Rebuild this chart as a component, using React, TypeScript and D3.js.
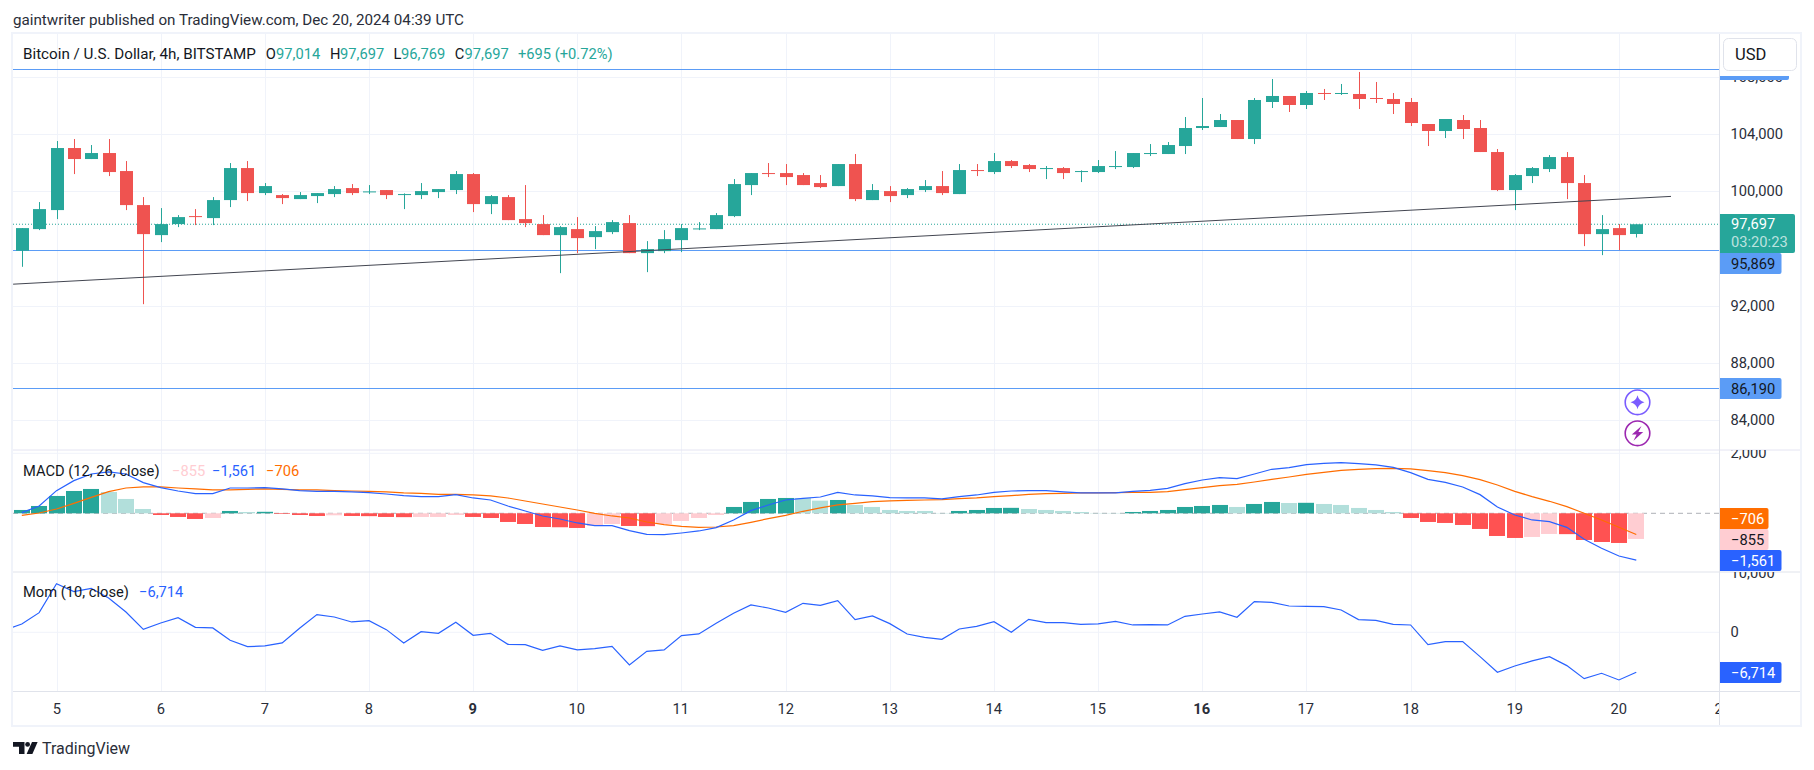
import React from "react";
import * as d3 from "d3";

const opens = [95837,97357,98690,103041,102269,102690,101427,99041,96936,97708,98269,98129,99392,101637,99883,99743,99462,99673,99813,100234,99977,100094,99766,99743,99953,100094,101216,99111,99602,98059,97708,96936,97357,96796,97146,97778,95673,95813,96585,97357,97357,98269,100444,101286,101286,101146,100585,100374,101918,99392,100023,99743,100094,100374,99813,101497,101357,102128,101848,101567,101637,101357,101357,101707,101707,102620,102620,103181,104444,104514,105005,103672,106269,106690,106058,106900,106830,106830,106549,106479,106269,104725,104234,105005,104444,102760,100094,101076,101567,102409,100585,97006,97427,97014];
const closes = [97427,98760,103041,102269,102690,101357,99041,97006,97708,98199,98199,99392,101637,99883,100374,99532,99743,99883,100164,99883,100000,99743,99813,100023,100164,101216,99111,99673,97988,97778,96936,97497,96725,97217,97848,95673,95954,96655,97427,97404,98339,100515,101286,101216,101006,100444,100304,101918,99462,100094,99673,100164,100374,99883,101497,101427,102128,101778,101567,101637,101286,101427,101778,101778,102690,102690,103251,104444,104584,105005,103672,106409,106690,106058,106900,106853,106900,106479,106502,106128,104795,104234,105076,104374,102760,100094,101146,101637,102409,100585,97006,97357,96936,97697];
const highs = [97427,99252,103532,103672,103251,103672,102128,99602,98830,98339,98760,99602,101988,102128,100585,99813,99953,99883,100374,100515,100444,100094,99860,100585,100164,101427,101286,99743,99743,100444,98339,97567,98199,97567,97988,98339,96515,97287,97708,97848,98480,100865,101286,101988,101918,101286,101146,101918,102620,100515,100374,100234,100795,101427,101918,101918,102690,102199,101918,101778,101707,101474,102199,102830,102690,103321,103462,105216,106549,105426,105005,106549,107882,106690,107040,107181,107532,108374,107672,106900,106549,104725,105076,105356,105005,102971,101216,101707,102549,102760,101146,98339,97708,97697];
const lows = [94714,97287,98059,101216,102269,101076,98690,92094,96445,97497,97638,97638,98901,99322,99743,99111,99462,99181,99602,99743,99813,99462,98760,99462,99532,99813,98550,98409,97988,97497,96936,94269,95673,95954,97006,95673,94340,95673,95743,97287,97357,98199,99743,101006,100444,100444,100234,100374,99322,99392,99252,99532,99953,99743,99813,101076,101216,101637,101357,100865,100865,100655,101286,101567,101637,102479,102620,102620,104304,104514,103672,103321,105848,105567,105777,106409,106760,105777,106198,105426,104584,103181,103742,103672,102760,100023,98690,100585,101357,99462,96164,95533,95883,96769];

const macdLine = [22,244,756,1089,1311,1378,1311,1022,856,744,656,656,844,844,856,811,756,733,733,711,689,644,589,556,556,622,511,444,244,78,-89,-189,-322,-411,-411,-578,-700,-711,-656,-589,-478,-222,89,278,444,500,544,700,611,578,522,511,511,478,556,611,700,744,756,756,711,678,678,678,733,767,833,989,1111,1189,1156,1311,1467,1522,1622,1667,1689,1656,1611,1533,1356,1133,1033,878,622,211,-56,-222,-278,-467,-867,-1167,-1422,-1561];
const signalLine = [-67,11,144,333,533,722,844,878,878,844,811,778,778,800,811,800,778,778,756,744,733,711,678,667,633,633,611,578,511,411,311,211,111,0,-89,-156,-289,-378,-433,-467,-456,-411,-300,-178,-67,67,178,278,333,389,411,433,444,456,489,511,556,589,633,656,667,678,678,689,700,700,722,789,856,922,967,1044,1133,1211,1300,1367,1433,1467,1489,1500,1478,1422,1356,1256,1122,944,733,556,400,222,0,-222,-467,-706];
const histogram = [111,244,578,744,811,711,478,144,-56,-122,-189,-156,78,44,50,-22,-56,-89,-67,-89,-95,-122,-128,-122,-122,-56,-122,-156,-289,-356,-456,-465,-489,-422,-356,-422,-428,-356,-256,-156,-56,211,378,478,511,511,422,444,278,211,111,78,78,11,78,111,178,182,144,111,78,44,11,11,44,78,111,211,244,278,211,311,378,344,350,311,278,178,111,44,-156,-289,-322,-389,-522,-756,-822,-789,-689,-695,-889,-956,-989,-855];
// momentum starts one bar before the first visible candle, which the pane clips
const momentum = [391,1398,3298,8161,6820,7379,5758,3410,503,1565,2460,839,727,-1342,-2404,-2292,-1789,671,2963,2571,1733,1957,447,-1789,112,-168,1677,-503,-168,-2012,-2068,-3019,-2292,-2963,-2739,-2348,-5478,-3186,-2963,-559,-280,1509,3186,4584,4081,3354,4863,4528,5311,2124,2739,1453,-280,-839,-1174,559,1006,1789,0,2180,1621,1621,1342,1398,1845,1230,1286,1230,2683,3075,3410,2516,5143,5031,4416,4360,4304,3745,2124,2012,1342,1230,-2068,-1565,-1565,-4081,-6708,-5646,-4807,-4081,-5590,-7770,-6876,-7994,-6714];

const dayLabels = ["5","6","7","8","9","10","11","12","13","14","15","16","17","18","19","20","21"];
const boldDays = ["9","16"];
const priceTicks = [108000,104000,100000,92000,88000,84000];
const levelLines = [108561,95869,86190];
const lastPrice = 97697;
const trendPrices = [93495,99649];
const trendIndex = [-0.5,95];

const GREEN="#26a69a", RED="#ef5350", BLUE="#5b9cf6", MBLUE="#2962ff", ORANGE="#ff6d00", PINK="#ffcdd2", LGREEN="#b2dfdb", HRED="#ff5252";
const GRID="#f0f3fa", SEP="#e0e3eb", INK="#131722", FRAME="#f0f3fa";
const FONT="Roboto, 'Liberation Sans', sans-serif";
const FS=14.7;

const L=13, R=1719, TOP=34, M1=450, M2=572, M3=691.5, BOT=726;
const x=d3.scaleLinear().domain([0,93]).range([21.8,21.8+17.36*93]);
const yP=d3.scaleLinear().domain([84000,108000]).range([419.6,77.3]);
const yM=d3.scaleLinear().domain([0,2000]).range([513.3,453.3]);
const yO=d3.scaleLinear().domain([0,10000]).range([632.3,572.7]);
const fmt=(v:number)=>d3.format(",")(v);

const macdPath=d3.line<number>().x((_,i)=>x(i)).y(d=>yM(d));
const momPath=d3.line<number>().x((_,i)=>x(i-1)).y(d=>yO(d));
const dayX=(i:number)=>Math.round(x(2+6*i))+0.5;

function histColor(i:number){
  const v=histogram[i], p=i>0?histogram[i-1]:-Infinity;
  if(v>=0) return v>p?GREEN:LGREEN;
  return v<p?HRED:PINK;
}

function T(p:any){
  return <text fontFamily={FONT} fontSize={FS} fill={INK} dominantBaseline="central" {...p}/>;
}

function Tag({y,h=21,x1,fill,text,color}:{y:number,h?:number,x1:number,fill:string,text:string,color:string}){
  return <g>
    <path d={`M1720 ${y}H${x1-2}q2 0 2 2V${y+h-2}q0 2 -2 2H1720Z`} fill={fill}/>
    <T x={1731} y={y+h/2} fill={color}>{text}</T>
  </g>;
}

export default function App(){
  return <svg width={1814} height={770} viewBox="0 0 1814 770" style={{position:"absolute",left:0,top:0,display:"block",background:"#fff"}}>
    <defs>
      <clipPath id="plot"><rect x={L} y={TOP} width={R-L} height={M3-TOP}/></clipPath>
      <clipPath id="macdClip"><rect x={L} y={M1} width={R-L} height={M2-M1}/></clipPath>
      <clipPath id="momClip"><rect x={L} y={M2} width={R-L} height={M3-M2}/></clipPath>
      <clipPath id="axisM"><rect x={R} y={M1} width={90} height={M2-M1}/></clipPath>
      <clipPath id="axisO"><rect x={R} y={M2} width={90} height={M3-M2}/></clipPath>
      <clipPath id="axisP"><rect x={R} y={TOP} width={90} height={M1-TOP}/></clipPath>
      <clipPath id="axisT"><rect x={L} y={M3} width={R-L} height={BOT-M3}/></clipPath>
    </defs>

    <T x={13} y={20} fontSize={15.2} fill="#2a2e39">gaintwriter published on TradingView.com, Dec 20, 2024 04:39 UTC</T>

    {/* grid */}
    <g stroke={GRID} strokeWidth={1}>
      {dayLabels.slice(0,-1).map((_,i)=><line key={i} x1={dayX(i)} x2={dayX(i)} y1={TOP} y2={M3}/>)}
      {priceTicks.map(p=><line key={p} x1={L} x2={R} y1={Math.round(yP(p))+0.5} y2={Math.round(yP(p))+0.5}/>)}
      <line x1={L} x2={R} y1={yM(2000)} y2={yM(2000)}/>
      <line x1={L} x2={R} y1={yO(0)} y2={yO(0)}/>
    </g>

    {/* main pane */}
    <line x1={L} x2={R} y1={yP(lastPrice)} y2={yP(lastPrice)} stroke={GREEN} strokeWidth={1} strokeDasharray="1 2"/>
    <g clipPath="url(#plot)">
      {levelLines.map(p=><line key={p} x1={L} x2={R} y1={Math.round(yP(p))+0.5} y2={Math.round(yP(p))+0.5} stroke={BLUE} strokeWidth={1}/>)}
      {opens.map((o,i)=>{
        const c=closes[i], col=c>=o?GREEN:RED, top=yP(Math.max(o,c)), bot=yP(Math.min(o,c));
        const cx=Math.round(x(i));
        return <g key={i} fill={col}>
          <rect x={cx} y={yP(highs[i])} width={1} height={yP(lows[i])-yP(highs[i])}/>
          <rect x={cx-6} y={top} width={13} height={Math.max(1,bot-top)}/>
        </g>;
      })}
      <line x1={x(trendIndex[0])} x2={x(trendIndex[1])} y1={yP(trendPrices[0])} y2={yP(trendPrices[1])} stroke="#434651" strokeWidth={1}/>
    </g>

    {/* MACD */}
    <g clipPath="url(#macdClip)">
      <line x1={L} x2={R} y1={yM(0)} y2={yM(0)} stroke="#787b86" strokeOpacity={0.6} strokeDasharray="5 4"/>
      {histogram.map((v,i)=>{
        const y0=yM(0), y1=yM(v);
        return <rect key={i} x={Math.round(x(i))-8} y={Math.min(y0,y1)} width={16} height={Math.abs(y1-y0)} fill={histColor(i)}/>;
      })}
      <path d={macdPath(signalLine)!} fill="none" stroke={ORANGE} strokeWidth={1.2}/>
      <path d={macdPath(macdLine)!} fill="none" stroke={MBLUE} strokeWidth={1.2}/>
    </g>

    {/* Momentum */}
    <g clipPath="url(#momClip)">
      <path d={momPath(momentum)!} fill="none" stroke={MBLUE} strokeWidth={1.2}/>
    </g>

    {/* legends */}
    <T x={23} y={53.5} fontSize={15.2}>Bitcoin / U.S. Dollar, 4h, BITSTAMP</T>
    {[["O",265.7,276,"97,014"],["H",330,340,"97,697"],["L",393.4,401,"96,769"],["C",454.7,464.6,"97,697"]].map((r:any)=>
      <g key={r[0]}><T x={r[1]} y={53.5}>{r[0]}</T><T x={r[2]} y={53.5} fill={GREEN}>{r[3]}</T></g>)}
    <T x={518} y={53.5} fill={GREEN}>+695 (+0.72%)</T>

    <T x={23} y={470.7}>MACD (12, 26, close)</T>
    <T x={172} y={470.7} fill={PINK}>−855</T>
    <T x={212} y={470.7} fill={MBLUE}>−1,561</T>
    <T x={266} y={470.7} fill={ORANGE}>−706</T>

    <T x={23} y={592}>Mom (10, close)</T>
    <T x={139} y={592} fill={MBLUE}>−6,714</T>

    {/* overlay icons */}
    <g>
      <circle cx={1637.5} cy={402.3} r={12.3} fill="#fff" stroke="#7a5cff" strokeWidth={1.6}/>
      <path d="M1637.5 395.3Q1638.8 401 1644.5 402.3Q1638.8 403.6 1637.5 409.3Q1636.2 403.6 1630.5 402.3Q1636.2 401 1637.5 395.3Z" fill="#7a5cff"/>
      <circle cx={1637.5} cy={433.3} r={12.3} fill="#fff" stroke="#9c27b0" strokeWidth={1.6}/>
      <path d="M1641.5 426L1631.8 434.5H1636.6L1633.5 440.8L1643.2 432H1638.4Z" fill="#9c27b0"/>
    </g>

    {/* frame and axis lines */}
    <g stroke={SEP} strokeWidth={1}>
      <line x1={L} x2={1801} y1={M1} y2={M1} stroke="#e4e4f2"/>
      <line x1={L} x2={1801} y1={M2} y2={M2}/>
      <line x1={L} x2={1801} y1={M3} y2={M3}/>
      <line x1={R+0.5} x2={R+0.5} y1={TOP} y2={BOT}/>
    </g>
    <rect x={12} y={33} width={1789} height={693} fill="none" stroke={FRAME} strokeWidth={2}/>

    {/* axes */}
    <g clipPath="url(#axisP)">
      {priceTicks.map(p=><T key={p} x={1730.5} y={yP(p)} fill="#2a2e39">{fmt(p)}</T>)}
    </g>
    <g clipPath="url(#axisM)"><T x={1730.5} y={yM(2000)} fill="#2a2e39">2,000</T></g>
    <g clipPath="url(#axisO)">
      <T x={1730.5} y={yO(10000)} fill="#2a2e39">10,000</T>
      <T x={1730.5} y={yO(0)} fill="#2a2e39">0</T>
    </g>
    <g clipPath="url(#axisT)">
      {dayLabels.map((d,i)=><T key={d} x={dayX(i)-0.7} y={708.7} textAnchor="middle" fill="#2a2e39" fontWeight={boldDays.includes(d)?700:400}>{d}</T>)}
    </g>

    {/* price tags */}
    <path d="M1720 59H1789V78q0 2 -2 2H1720Z" fill={BLUE}/>
    <rect x={1720} y={34} width={80} height={42} fill="#fff"/>
    <rect x={1723.5} y={38.5} width={73} height={32} rx={5} fill="#fff" stroke={SEP}/>
    <T x={1735} y={54.5} fontSize={16.5}>USD</T>

    <path d="M1720 214H1793q2 0 2 2V251q0 2 -2 2H1720Z" fill={GREEN}/>
    <T x={1731} y={224} fill="#fff">97,697</T>
    <T x={1731} y={242} fill="#fff" fillOpacity={0.7}>03:20:23</T>
    <Tag y={253} x1={1781.5} fill={BLUE} color={INK} text="95,869"/>
    <Tag y={378} x1={1781.5} fill={BLUE} color={INK} text="86,190"/>
    <Tag y={508} x1={1768.5} fill={ORANGE} color="#fff" text="−706"/>
    <Tag y={529} x1={1768.5} fill={PINK} color={INK} text="−855"/>
    <Tag y={550} x1={1781.5} fill={MBLUE} color="#fff" text="−1,561"/>
    <Tag y={662} x1={1781.5} fill={MBLUE} color="#fff" text="−6,714"/>

    {/* logo */}
    <g fill={INK}>
      <path d="M13 742H24.5V754H19V746.8H13Z"/>
      <circle cx={27.6} cy={744.4} r={2.4}/>
      <path d="M32 742H37.6L32.4 754H26.6Z"/>
    </g>
    <T x={42} y={748.5} fontSize={16} fill="#2a2e39">TradingView</T>
  </svg>;
}
